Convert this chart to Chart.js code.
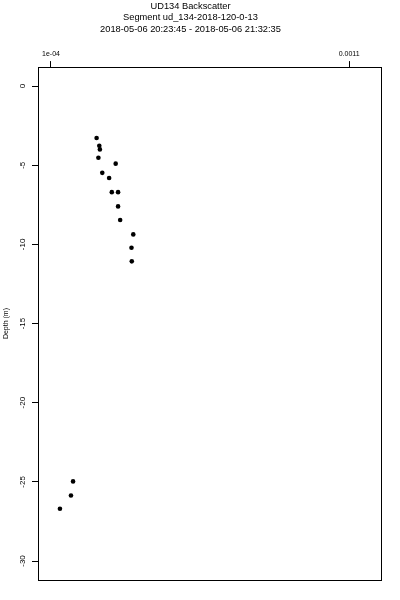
<!DOCTYPE html>
<html>
<head>
<meta charset="utf-8">
<script src="https://cdn.jsdelivr.net/npm/chart.js@4/dist/chart.umd.min.js"></script>
<style>
  body { margin: 0; background: #fff; }
  #wrap { width: 400px; height: 600px; }
</style>
</head>
<body>
<div id="wrap"><canvas id="chart"></canvas></div>
<script>
// values
var backscatter = [2.53e-4, 2.62e-4, 2.64e-4, 2.59e-4, 3.17e-4, 2.72e-4, 2.95e-4, 3.04e-4, 3.25e-4,
                   3.25e-4, 3.32e-4, 3.76e-4, 3.70e-4, 3.71e-4, 1.74e-4, 1.67e-4, 1.30e-4];
var depth = [-3.28, -3.77, -4.0, -4.53, -4.9, -5.48, -5.81, -6.7, -6.7,
             -7.6, -8.46, -9.37, -10.21, -11.07, -24.97, -25.86, -26.7];
var xTicks = [1e-4, 0.0011];
var xTickLabels = ['1e-04', '0.0011'];
var yTicks = [0, -5, -10, -15, -20, -25, -30];
var titleLines = ['UD134 Backscatter', 'Segment ud_134-2018-120-0-13', '2018-05-06 20:23:45 - 2018-05-06 21:32:35'];

var font = '"Liberation Sans", Arial, Helvetica, sans-serif';

var points = backscatter.map(function (v, i) { return { x: v, y: depth[i] }; });

// full box around the plot area
var boxPlugin = {
    id: 'box',
    afterDraw: function (chart) {
        var a = chart.chartArea, ctx = chart.ctx;
        ctx.save();
        ctx.strokeStyle = '#000';
        ctx.lineWidth = 1;
        ctx.strokeRect(Math.round(a.left) + 0.5, Math.round(a.top) + 0.5,
                       Math.round(a.right - a.left), Math.round(a.bottom - a.top));
        ctx.restore();
    }
};

new Chart(document.getElementById('chart'), {
    type: 'scatter',
    data: {
        datasets: [{
            data: points,
            backgroundColor: '#000',
            borderWidth: 0,
            pointRadius: 2.3,
            pointHoverRadius: 2.3
        }]
    },
    plugins: [boxPlugin],
    options: {
        responsive: true,
        maintainAspectRatio: false,
        animation: false,
        layout: { padding: { top: 0, left: 0, right: 19, bottom: 20 } },
        plugins: {
            legend: { display: false },
            tooltip: { enabled: false },
            title: {
                display: true,
                text: titleLines,
                color: '#000',
                font: { family: font, size: 9.3, weight: 'normal', lineHeight: 1.24 },
                padding: { top: 0.5, bottom: 0 }
            }
        },
        scales: {
            x: {
                type: 'linear',
                position: 'top',
                min: 5.64e-5,
                max: 0.001207,
                afterBuildTicks: function (s) { s.ticks = xTicks.map(function (v) { return { value: v }; }); },
                afterFit: function (s) { s.height = 32; },
                ticks: {
                    color: '#000',
                    font: { family: font, size: 7 },
                    padding: 3,
                    maxRotation: 0,
                    callback: function (v) { return xTickLabels[xTicks.indexOf(v)]; }
                },
                grid: { drawOnChartArea: false, color: '#000', tickLength: 6 },
                border: { color: '#000' }
            },
            y: {
                type: 'linear',
                min: -31.2,
                max: 1.2,
                afterBuildTicks: function (s) { s.ticks = yTicks.map(function (v) { return { value: v }; }); },
                afterFit: function (s) { s.width = 38; },
                title: {
                    display: true,
                    text: 'Depth (m)',
                    color: '#000',
                    font: { family: font, size: 7 },
                    padding: { top: 2, bottom: 0 }
                },
                ticks: {
                    color: '#000',
                    font: { family: font, size: 8 },
                    minRotation: 90,
                    maxRotation: 90,
                    crossAlign: 'center',
                    padding: 3
                },
                grid: { drawOnChartArea: false, color: '#000', tickLength: 6 },
                border: { color: '#000' }
            }
        }
    }
});
</script>
</body>
</html>
